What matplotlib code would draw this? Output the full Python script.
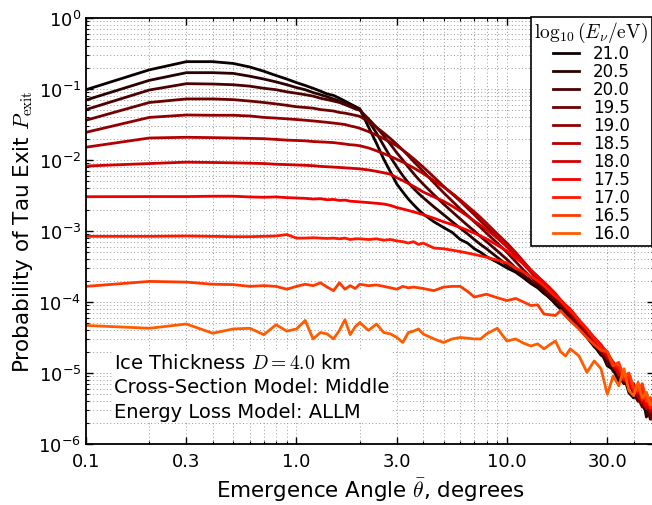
import numpy as np
import matplotlib
matplotlib.use("Agg")
import matplotlib.pyplot as plt
from matplotlib.ticker import FixedLocator, FixedFormatter, LogLocator, NullFormatter, LogFormatterSciNotation

plt.rcParams['mathtext.fontset'] = 'cm'
plt.rcParams['font.family'] = ['DejaVu Sans']

# emergence angle grid (degrees)
theta = [0.1, 0.2, 0.3, 0.4, 0.5, 0.6, 0.7, 0.8, 0.9, 1.0, 1.1, 1.2, 1.3, 1.4, 1.5, 1.6, 1.7, 1.8, 1.9, 2.0,
         2.2, 2.4, 2.6, 2.8, 3.0, 3.2, 3.4, 3.6, 3.8, 4.0,
         4.5, 5, 5.5, 6, 6.5, 7, 7.5, 8, 9, 10,
         11, 12, 13, 14, 15, 16, 17, 18, 19, 20,
         22, 24, 26, 28, 30, 32, 34, 36, 38, 40, 42, 44, 46, 48, 50]

energies = ["21.0", "20.5", "20.0", "19.5", "19.0", "18.5", "18.0", "17.5", "17.0", "16.5", "16.0"]

# log10(P_exit), one list per neutrino energy
logp_210 = [-1.01, -0.73, -0.615, -0.615, -0.64, -0.69, -0.75, -0.81, -0.86, -0.91, -0.95, -0.99, -1.03, -1.07, -1.09, -1.13, -1.17, -1.21, -1.245, -1.28,
            -1.535, -1.765, -1.99, -2.17, -2.34, -2.45, -2.55, -2.63, -2.70, -2.76,
            -2.87, -2.95, -3.02, -3.12, -3.17, -3.25, -3.30, -3.36, -3.44, -3.52,
            -3.58, -3.66, -3.74, -3.80, -3.88, -3.94, -4.03, -4.10, -4.18, -4.26,
            -4.37, -4.50, -4.63, -4.70, -4.90, -4.95, -5.12, -5.05, -5.28, -5.35, -5.20, -5.45, -5.55, -5.40, -5.60]
logp_205 = [-1.155, -0.878, -0.77, -0.77, -0.78, -0.82, -0.86, -0.90, -0.94, -0.98, -1.01, -1.05, -1.08, -1.11, -1.14, -1.17, -1.20, -1.23, -1.26, -1.29,
            -1.45, -1.62, -1.80, -1.96, -2.10, -2.22, -2.32, -2.40, -2.47, -2.53,
            -2.66, -2.77, -2.87, -2.96, -3.04, -3.12, -3.19, -3.25, -3.37, -3.48,
            -3.57, -3.65, -3.72, -3.79, -3.86, -3.95, -4.01, -4.08, -4.15, -4.21,
            -4.36, -4.46, -4.62, -4.75, -4.80, -4.98, -4.95, -5.15, -5.10, -5.30, -5.38, -5.30, -5.62, -5.50, -5.45]
logp_200 = [-1.29, -1.014, -0.925, -0.93, -0.94, -0.96, -0.99, -1.01, -1.04, -1.06, -1.08, -1.10, -1.13, -1.15, -1.17, -1.19, -1.22, -1.25, -1.28, -1.30,
            -1.42, -1.54, -1.66, -1.78, -1.90, -2.00, -2.10, -2.19, -2.27, -2.34,
            -2.49, -2.62, -2.73, -2.83, -2.92, -3.00, -3.08, -3.15, -3.28, -3.40,
            -3.52, -3.62, -3.70, -3.76, -3.84, -3.92, -3.98, -4.06, -4.12, -4.22,
            -4.32, -4.47, -4.58, -4.66, -4.88, -4.90, -5.05, -5.15, -5.05, -5.28, -5.40, -5.35, -5.45, -5.65, -5.50]
logp_195 = [-1.44, -1.19, -1.14, -1.14, -1.15, -1.17, -1.19, -1.21, -1.23, -1.25, -1.26, -1.27, -1.29, -1.30, -1.31, -1.33, -1.34, -1.355, -1.37, -1.385,
            -1.46, -1.54, -1.62, -1.70, -1.78, -1.86, -1.94, -2.02, -2.09, -2.16,
            -2.32, -2.46, -2.58, -2.69, -2.78, -2.87, -2.95, -3.03, -3.17, -3.30,
            -3.43, -3.55, -3.65, -3.73, -3.80, -3.90, -3.96, -4.04, -4.10, -4.18,
            -4.33, -4.44, -4.55, -4.72, -4.78, -4.88, -5.02, -5.00, -5.22, -5.18, -5.35, -5.48, -5.35, -5.58, -5.70]
logp_190 = [-1.61, -1.40, -1.366, -1.37, -1.37, -1.38, -1.40, -1.41, -1.42, -1.43, -1.44, -1.45, -1.46, -1.47, -1.48, -1.49, -1.50, -1.52, -1.535, -1.554,
            -1.60, -1.65, -1.70, -1.75, -1.80, -1.86, -1.92, -1.98, -2.04, -2.10,
            -2.24, -2.37, -2.48, -2.58, -2.68, -2.77, -2.86, -2.94, -3.09, -3.22,
            -3.35, -3.47, -3.58, -3.68, -3.76, -3.86, -3.92, -4.00, -4.08, -4.15,
            -4.30, -4.40, -4.56, -4.65, -4.80, -4.86, -5.00, -5.10, -5.08, -5.25, -5.30, -5.25, -5.50, -5.45, -5.60]
logp_185 = [-1.82, -1.69, -1.68, -1.685, -1.69, -1.695, -1.70, -1.71, -1.72, -1.725, -1.73, -1.74, -1.745, -1.75, -1.755, -1.765, -1.775, -1.785, -1.79, -1.80,
            -1.83, -1.87, -1.91, -1.95, -1.99, -2.03, -2.07, -2.11, -2.15, -2.19,
            -2.29, -2.38, -2.47, -2.56, -2.65, -2.73, -2.81, -2.89, -3.04, -3.17,
            -3.30, -3.43, -3.55, -3.65, -3.74, -3.83, -3.92, -3.98, -4.06, -4.13,
            -4.27, -4.42, -4.52, -4.68, -4.75, -4.92, -4.98, -5.08, -5.18, -5.15, -5.32, -5.42, -5.38, -5.55, -5.48]
logp_180 = [-2.085, -2.05, -2.03, -2.035, -2.04, -2.045, -2.05, -2.06, -2.065, -2.07, -2.075, -2.08, -2.09, -2.095, -2.10, -2.105, -2.11, -2.115, -2.12, -2.125,
            -2.14, -2.16, -2.18, -2.20, -2.25, -2.29, -2.33, -2.37, -2.41, -2.45,
            -2.52, -2.58, -2.65, -2.72, -2.79, -2.86, -2.92, -2.98, -3.10, -3.22,
            -3.33, -3.44, -3.55, -3.64, -3.73, -3.82, -3.90, -3.98, -4.05, -4.12,
            -4.28, -4.40, -4.55, -4.62, -4.78, -4.85, -5.03, -5.00, -5.20, -5.22, -5.18, -5.40, -5.50, -5.38, -5.52]
logp_175 = [-2.517, -2.515, -2.515, -2.51, -2.51, -2.52, -2.525, -2.52, -2.53, -2.535, -2.54, -2.55, -2.545, -2.56, -2.555, -2.57, -2.565, -2.58, -2.585, -2.59,
            -2.60, -2.61, -2.62, -2.64, -2.67, -2.69, -2.71, -2.73, -2.75, -2.77,
            -2.82, -2.87, -2.91, -2.95, -2.99, -3.03, -3.07, -3.11, -3.20, -3.28,
            -3.38, -3.46, -3.56, -3.64, -3.72, -3.80, -3.88, -3.97, -4.04, -4.10,
            -4.25, -4.38, -4.50, -4.60, -4.72, -4.85, -4.95, -5.05, -5.10, -5.20, -5.28, -5.20, -5.45, -5.35, -5.50]
logp_170 = [-3.075, -3.075, -3.07, -3.075, -3.08, -3.08, -3.075, -3.07, -3.05, -3.10, -3.10, -3.095, -3.10, -3.105, -3.10, -3.11, -3.10, -3.12, -3.11, -3.11,
            -3.12, -3.11, -3.13, -3.12, -3.14, -3.15, -3.17, -3.15, -3.19, -3.17,
            -3.24, -3.25, -3.27, -3.29, -3.31, -3.33, -3.35, -3.37, -3.41, -3.45,
            -3.52, -3.58, -3.64, -3.70, -3.77, -3.85, -3.92, -3.98, -4.06, -4.12,
            -4.26, -4.38, -4.52, -4.63, -4.70, -4.88, -4.92, -5.10, -5.05, -5.25, -5.20, -5.38, -5.30, -5.50, -5.42]
logp_165 = [-3.78, -3.71, -3.72, -3.75, -3.755, -3.78, -3.77, -3.78, -3.82, -3.78, -3.75, -3.77, -3.73, -3.79, -3.84, -3.73, -3.82, -3.77, -3.81, -3.75,
            -3.77, -3.76, -3.78, -3.80, -3.82, -3.78, -3.80, -3.79, -3.80, -3.81,
            -3.84, -3.79, -3.78, -3.78, -3.85, -3.93, -3.91, -3.89, -3.94, -3.98,
            -3.95, -4.00, -4.05, -4.04, -4.17, -4.18, -4.19, -4.12, -4.20, -4.26,
            -4.38, -4.50, -4.60, -4.68, -4.70, -4.90, -4.85, -5.05, -5.00, -5.20, -5.25, -5.15, -5.40, -5.35, -5.50]
logp_160 = [-4.33, -4.37, -4.31, -4.44, -4.38, -4.37, -4.46, -4.32, -4.41, -4.38, -4.26, -4.52, -4.43, -4.45, -4.52, -4.40, -4.25, -4.46, -4.35, -4.29,
            -4.40, -4.31, -4.43, -4.45, -4.50, -4.57, -4.43, -4.41, -4.38, -4.45,
            -4.52, -4.57, -4.52, -4.50, -4.51, -4.52, -4.52, -4.45, -4.37, -4.55,
            -4.52, -4.58, -4.62, -4.59, -4.66, -4.60, -4.55, -4.70, -4.76, -4.66,
            -4.76, -4.99, -4.83, -4.94, -5.30, -5.04, -5.18, -4.94, -5.25, -5.32, -5.13, -5.35, -5.27, -5.45, -5.40]

curves = [logp_210, logp_205, logp_200, logp_195, logp_190, logp_185,
          logp_180, logp_175, logp_170, logp_165, logp_160]

xticks = [0.1, 0.3, 1.0, 3.0, 10.0, 30.0]
xticklabels = ["0.1", "0.3", "1.0", "3.0", "10.0", "30.0"]
yticks = [1e-6, 1e-5, 1e-4, 1e-3, 1e-2, 1e-1, 1e0]

colors = plt.cm.hot(np.linspace(0.0, 0.5, len(energies)))

fig = plt.figure(figsize=(6.52, 5.06), dpi=100)
ax = fig.add_axes([86 / 652, 61 / 506, 568 / 652, 426 / 506])

for e, lp, c in zip(energies, curves, colors):
    ax.plot(theta, 10.0 ** np.array(lp), color=c, lw=2, label=e)

ax.set_xscale("log")
ax.set_yscale("log")
ax.set_xlim(0.1, 50)
ax.set_ylim(1e-6, 1)

ax.xaxis.set_major_locator(FixedLocator(xticks))
ax.xaxis.set_major_formatter(FixedFormatter(xticklabels))
ax.xaxis.set_minor_locator(LogLocator(base=10, subs=np.arange(2, 10)))
ax.xaxis.set_minor_formatter(NullFormatter())
ax.yaxis.set_major_locator(FixedLocator(yticks))
ax.yaxis.set_major_formatter(LogFormatterSciNotation())
ax.yaxis.set_minor_locator(LogLocator(base=10, subs=np.arange(2, 10), numticks=20))
ax.yaxis.set_minor_formatter(NullFormatter())

ax.tick_params(which="both", direction="in", top=True, right=True, labelsize=13)
ax.tick_params(which="major", length=5, width=1)
ax.tick_params(which="minor", length=2.5, width=0.8)
ax.tick_params(axis="x", pad=6)
for s in ax.spines.values():
    s.set_linewidth(1.3)

ax.grid(True, which="both", color="0.6", ls=(0, (1, 2.5)), lw=0.7)
ax.set_axisbelow(True)

ax.set_xlabel(r"Emergence Angle $\bar{\theta}$, degrees", fontsize=15.5, labelpad=4)
ax.set_ylabel(r"Probability of Tau Exit $P_\mathrm{exit}$", fontsize=15.5, labelpad=2)

ax.text(0.05, 0.055, "Ice Thickness $D = 4.0$ km\nCross-Section Model: Middle\nEnergy Loss Model: ALLM",
        transform=ax.transAxes, fontsize=14, linespacing=1.36, va="bottom", ha="left",
        bbox=dict(facecolor="white", edgecolor="none", pad=1))

leg = ax.legend(title=r"$\log_{10}(E_\nu/\mathrm{eV})$", loc="upper right",
                bbox_to_anchor=(651.5 / 652, 1 - 18 / 506), bbox_transform=fig.transFigure,
                borderaxespad=0, fontsize=12, title_fontsize=14, fancybox=False,
                framealpha=1, edgecolor="black", labelspacing=0.0, handlelength=1.6,
                borderpad=0.2)
leg.get_frame().set_linewidth(1.2)

fig.savefig("out.png", dpi=100)
